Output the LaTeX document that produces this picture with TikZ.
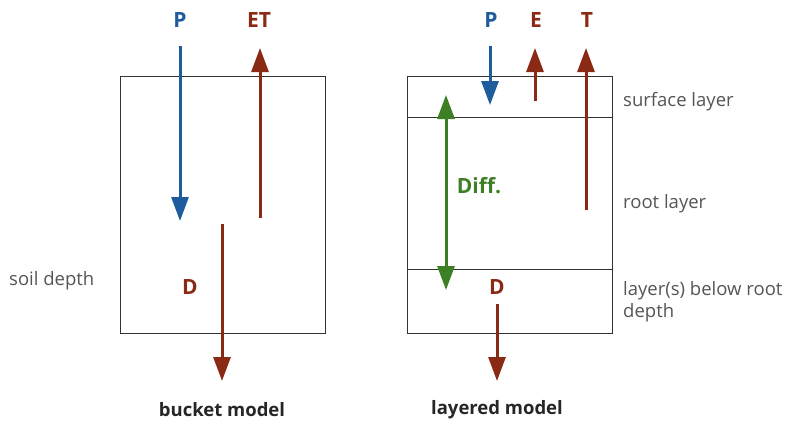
\documentclass[tikz,border=0pt]{standalone}
\usepackage{fontspec}
\setmainfont{Open Sans}
\usetikzlibrary{arrows.meta}
\definecolor{pblue}{HTML}{1F5C9E}
\definecolor{dred}{HTML}{8A2A14}
\definecolor{dgreen}{HTML}{3C7F25}
\definecolor{tgray}{HTML}{555555}
\tikzset{
  flux/.style={line width=3pt,-{Triangle[width=17pt,length=24pt]}},
  dflux/.style={line width=3pt,{Triangle[width=17pt,length=24pt]}-{Triangle[width=17pt,length=24pt]}},
  box/.style={draw=black!80,line width=1pt},
  flab/.style={font=\bfseries\fontsize{21}{24}\selectfont,inner sep=0pt},
  side/.style={font=\fontsize{18.5}{22}\selectfont,text=tgray,inner sep=0pt,anchor=west,align=left},
  title/.style={font=\bfseries\fontsize{18.5}{22}\selectfont,text=black!85,inner sep=0pt}
}
\begin{document}
\begin{tikzpicture}[x=1pt,y=-1pt]
\useasboundingbox (0,0) rectangle (785,426);
% left bucket
\draw[box] (120,76) rectangle (325,333);
\node[flab,text=pblue] (lP) at (180,20) {P};
\node[flab,text=dred] (lET) at (259,20) {ET};
\node[flab,text=dred] (lD) at (190,287) {D};
\coordinate (lPs) at (180,46); \coordinate (lPe) at (180,221);
\coordinate (lETs) at (260,218); \coordinate (lETe) at (260,48);
\coordinate (lDs) at (222,224); \coordinate (lDe) at (222,381);
\draw[flux,pblue] (lPs) -- (lPe);
\draw[flux,dred] (lETs) -- (lETe);
\draw[flux,dred] (lDs) -- (lDe);
\node[side] (sd) at (9,281) {soil depth};
\node[title] (bm) at (222,410) {bucket model};
% right layered
\draw[box] (407,76) rectangle (612,333);
\draw[box] (407,117) -- (612,117);
\draw[box] (407,269) -- (612,269);
\node[flab,text=pblue] (rP) at (491,20) {P};
\node[flab,text=dred] (rE) at (536,20) {E};
\node[flab,text=dred] (rT) at (587,20) {T};
\node[flab,text=dgreen] (rDiff) at (479,186) {Diff.};
\node[flab,text=dred] (rD) at (497,287) {D};
\coordinate (rPs) at (490,46); \coordinate (rPe) at (490,105);
\coordinate (rEs) at (535,101); \coordinate (rEe) at (535,48);
\coordinate (rTs) at (586,210); \coordinate (rTe) at (586,48);
\coordinate (gA) at (446,95); \coordinate (gB) at (446,290);
\coordinate (rDs) at (497,304); \coordinate (rDe) at (497,381);
\draw[flux,pblue] (rPs) -- (rPe);
\draw[flux,dred] (rEs) -- (rEe);
\draw[flux,dred] (rTs) -- (rTe);
\draw[dflux,dgreen] (gA) -- (gB);
\draw[flux,dred] (rDs) -- (rDe);
\node[side] (sl) at (623,102) {surface layer};
\node[side] (rl) at (623,204) {root layer};
\node[side] (bl) at (623,302) {layer(s) below root\\depth};
\node[title] (lm) at (497,410) {layered model};
\end{tikzpicture}
\end{document}
